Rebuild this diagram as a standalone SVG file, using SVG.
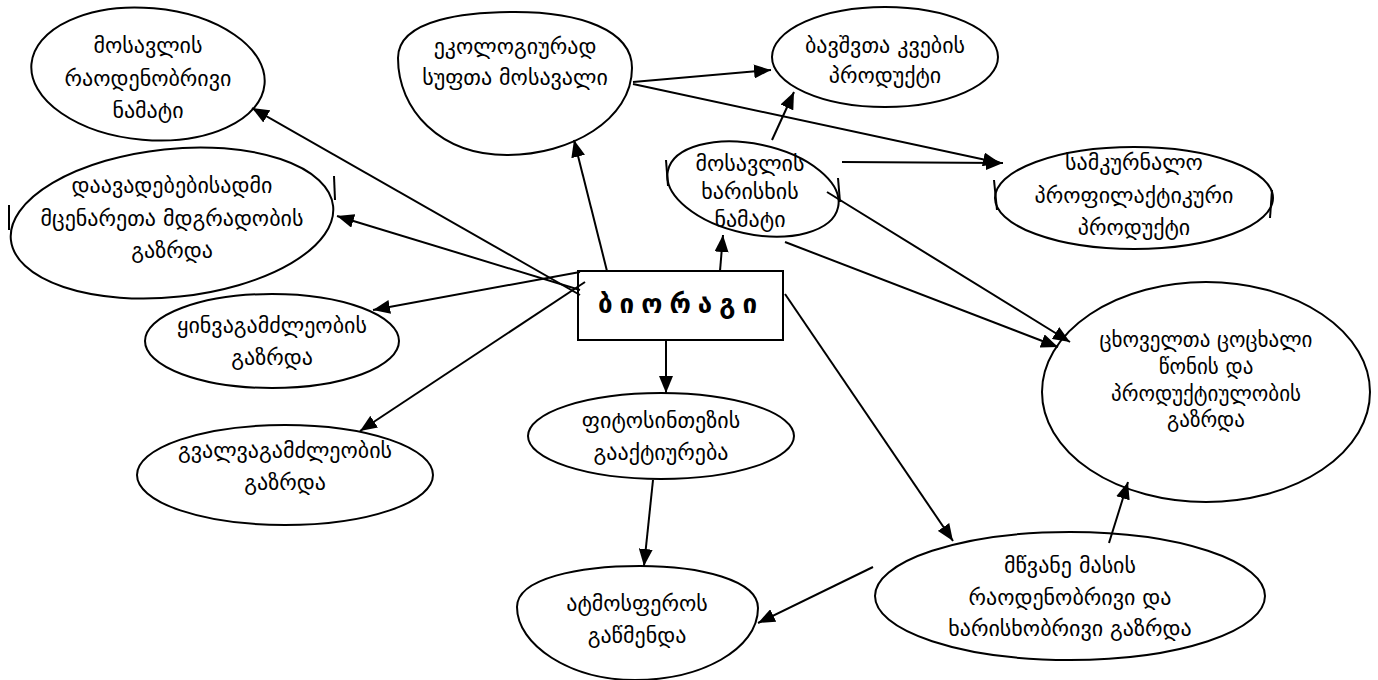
<svg xmlns="http://www.w3.org/2000/svg" width="1378" height="680" viewBox="0 0 1378 680">
<defs>
<marker id="ah" markerUnits="userSpaceOnUse" markerWidth="18" markerHeight="14" refX="17" refY="7" orient="auto">
<path d="M0,0 L17,7 L0,14 Z" fill="#000"/>
</marker>
<style>
.n{fill:#fff;stroke:#000;stroke-width:2}
.t{font-family:"DejaVu Sans",sans-serif;font-size:22px;fill:#000;text-anchor:middle}
.s{font-size:21px}
.c line{stroke:#000;stroke-width:2;marker-end:url(#ah)}
.tick{stroke:#000;stroke-width:2}
</style>
</defs>
<rect width="1378" height="680" fill="#fff"/>
<g id="n1"><ellipse class="n" cx="148" cy="74" rx="117" ry="66" transform="rotate(5 148 74)"/>
<text class="t" x="148" y="53">მოსავლის</text><text class="t" x="148" y="86">რაოდენობრივი</text><text class="t" x="148" y="118">ნამატი</text></g>
<g id="n2"><path class="n" d="M398,58 C398,18 470,12 515,12 C580,12 632,30 632,68 C632,120 570,155 507,155 C440,155 398,110 398,58 Z"/>
<text class="t" x="515" y="54">ეკოლოგიურად</text><text class="t" x="515" y="85">სუფთა მოსავალი</text></g>
<g id="n3"><ellipse class="n" cx="885" cy="57" rx="113" ry="50"/>
<text class="t" x="885" y="53">ბავშვთა კვების</text><text class="t" x="885" y="83">პროდუქტი</text></g>
<g id="n4"><ellipse class="n" cx="753" cy="189" rx="87" ry="45" transform="rotate(12 753 189)"/>
<text class="t" x="750" y="171">მოსავლის</text><text class="t" x="750" y="199">ხარისხის</text><text class="t" x="750" y="227">ნამატი</text>
<line class="tick" x1="666" y1="160" x2="668" y2="186"/><line class="tick" x1="838" y1="178" x2="840" y2="202"/></g>
<g id="n5"><ellipse class="n" cx="1134" cy="198" rx="139" ry="51"/>
<text class="t" x="1134" y="170">სამკურნალო</text><text class="t" x="1134" y="203">პროფილაქტიკური</text><text class="t" x="1134" y="235">პროდუქტი</text>
<line class="tick" x1="994" y1="180" x2="997" y2="210"/><line class="tick" x1="1272" y1="190" x2="1270" y2="218"/></g>
<g id="n6"><ellipse class="n" cx="172" cy="223" rx="162" ry="74" transform="rotate(-6 172 223)"/>
<text class="t" x="172" y="193">დაავადებებისადმი</text><text class="t" x="172" y="226">მცენარეთა მდგრადობის</text><text class="t" x="172" y="258">გაზრდა</text>
<line class="tick" x1="9" y1="205" x2="9" y2="230"/><line class="tick" x1="334" y1="176" x2="335" y2="200"/></g>
<g id="n7"><ellipse class="n" cx="272" cy="341" rx="127" ry="47"/>
<text class="t" x="272" y="333">ყინვაგამძლეობის</text><text class="t" x="272" y="365">გაზრდა</text></g>
<g id="n8"><ellipse class="n" cx="285" cy="475" rx="148" ry="50"/>
<text class="t" x="285" y="458">გვალვაგამძლეობის</text><text class="t" x="285" y="490">გაზრდა</text></g>
<g id="n0"><rect class="n" x="578" y="271" width="205" height="69"/>
<text x="681" y="313" style="font-family:'DejaVu Sans',sans-serif;font-size:26px;font-weight:bold;letter-spacing:7px;text-anchor:middle">ბიორაგი</text></g>
<g id="n9"><ellipse class="n" cx="661" cy="436" rx="133" ry="43"/>
<text class="t" x="661" y="428">ფიტოსინთეზის</text><text class="t" x="661" y="460">გააქტიურება</text></g>
<g id="n10"><path class="n" d="M517,607 C517,578 580,566 640,566 C700,566 758,580 758,608 C758,650 700,680 635,680 C570,680 517,645 517,607 Z"/>
<text class="t" x="637" y="611">ატმოსფეროს</text><text class="t" x="637" y="643">გაწმენდა</text></g>
<g id="n11"><ellipse class="n" cx="1206" cy="392" rx="164" ry="110"/>
<text class="t s" x="1206" y="347">ცხოველთა ცოცხალი</text><text class="t s" x="1206" y="374">წონის და</text><text class="t s" x="1206" y="401">პროდუქტიულობის</text><text class="t s" x="1206" y="427">გაზრდა</text></g>
<g id="n12"><ellipse class="n" cx="1070" cy="596" rx="195" ry="64"/>
<text class="t" x="1070" y="573">მწვანე მასის</text><text class="t" x="1070" y="605">რაოდენობრივი და</text><text class="t" x="1070" y="636">ხარისხობრივი გაზრდა</text></g>
<g class="c" id="connectors">
<line x1="580" y1="295" x2="252" y2="108"/>
<line x1="580" y1="290" x2="337" y2="216"/>
<line x1="580" y1="272" x2="373" y2="310"/>
<line x1="585" y1="282" x2="360" y2="431"/>
<line x1="607" y1="271" x2="574" y2="140"/>
<line x1="720" y1="271" x2="723" y2="235"/>
<line x1="666" y1="340" x2="666" y2="393"/>
<line x1="785" y1="294" x2="953" y2="541"/>
<line x1="653" y1="480" x2="644" y2="566"/>
<line x1="873" y1="567" x2="758" y2="623"/>
<line x1="1109" y1="543" x2="1128" y2="482"/>
<line x1="633" y1="82" x2="771" y2="70"/>
<line x1="633" y1="84" x2="1000" y2="163"/>
<line x1="772" y1="140" x2="794" y2="92"/>
<line x1="842" y1="162" x2="1003" y2="163"/>
<line x1="827" y1="192" x2="1070" y2="342"/>
<line x1="785" y1="242" x2="1058" y2="347"/>
</g>
</svg>
